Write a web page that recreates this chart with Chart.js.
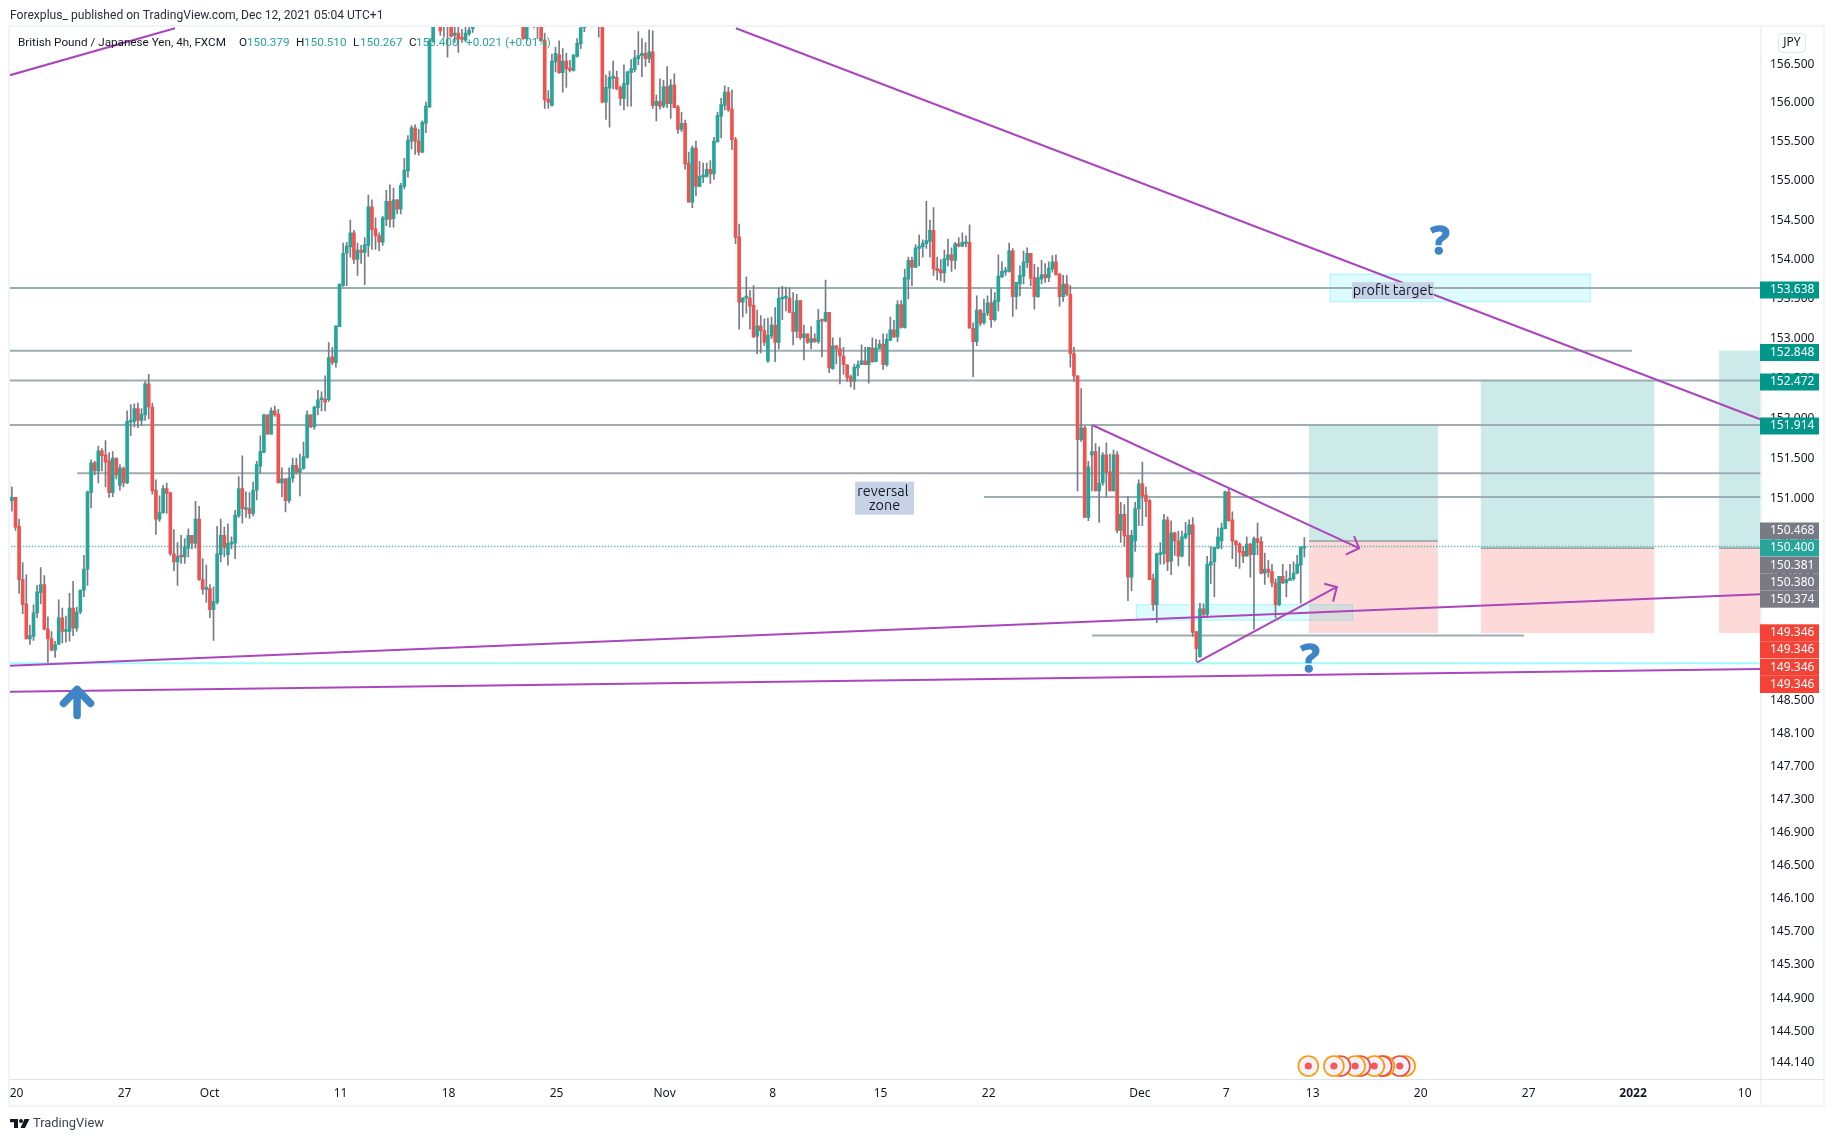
<!DOCTYPE html>
<html>
<head>
<meta charset="utf-8">
<style>html,body{margin:0;padding:0;background:#fff}canvas{display:block}</style>
<script src="https://cdn.jsdelivr.net/npm/chart.js@4"></script>
</head>
<body>
<canvas id="c" width="1834" height="1141"></canvas>
<script>
// Candles: index 0 is bar -1 (cut by the left edge); bars are 4h, 30 per week.
const opens = [
151.20,150.97,151.01,150.65,149.99,149.69,149.26,149.29,149.58,149.83,
149.93,149.38,149.26,149.12,149.19,149.52,149.35,149.35,149.64,149.39,
149.59,149.86,150.12,151.07,151.44,151.34,151.59,151.54,151.47,151.07,
151.50,151.16,151.37,151.19,151.95,151.96,152.12,151.97,152.04,152.43,
152.14,151.10,150.74,150.82,151.12,151.07,150.31,150.21,150.28,150.27,
150.38,150.54,150.44,150.74,149.99,149.87,149.88,149.62,149.71,150.30,
150.54,150.30,150.43,150.44,150.78,151.12,150.86,150.87,150.81,151.10,
151.40,151.57,152.04,151.80,152.09,152.05,151.19,151.24,150.97,151.25,
151.41,151.32,151.37,151.51,152.04,151.89,152.13,152.23,152.24,152.23,
152.77,152.70,153.15,153.67,154.08,154.16,154.34,154.00,154.12,154.09,
154.18,154.67,154.39,154.30,154.22,154.51,154.74,154.52,154.76,154.64,
154.93,155.13,155.51,155.68,155.51,155.37,155.74,155.95,156.80,157.25,
157.45,157.00,157.20,157.05,156.87,156.90,156.83,156.81,156.89,156.96,
157.10,157.28,157.50,157.70,157.50,157.62,157.40,157.55,157.35,157.50,
157.25,157.40,157.20,157.10,156.83,157.05,157.12,157.10,157.05,156.81,
156.05,155.97,156.53,156.62,156.39,156.54,156.45,156.42,156.60,156.76,
156.97,157.15,157.05,157.20,157.10,157.00,156.01,156.19,156.32,156.33,
156.20,156.06,156.24,156.39,156.43,156.57,156.61,156.64,156.57,156.66,
155.97,156.02,155.96,156.21,155.99,156.23,155.95,155.66,155.74,155.23,
154.73,155.42,154.93,155.05,155.06,155.15,155.09,155.50,155.83,155.97,
156.14,155.92,155.53,154.29,153.46,153.51,153.51,153.42,153.03,153.16,
153.10,152.72,153.03,153.17,152.95,153.50,153.51,153.51,153.33,153.09,
153.48,153.01,153.06,152.95,153.00,152.96,153.23,153.22,153.33,152.62,
152.91,152.87,152.78,152.67,152.52,152.46,152.63,152.67,152.72,152.67,
152.88,152.71,152.87,152.93,152.67,152.98,153.11,153.02,153.43,153.14,
153.75,153.99,153.90,154.14,154.16,154.20,154.23,154.37,153.88,153.87,
153.83,154.00,154.06,153.99,154.20,154.17,154.20,154.22,153.13,152.96,
153.36,153.20,153.32,153.45,153.24,153.47,153.78,153.84,153.85,154.11,
153.53,153.69,153.79,153.96,154.08,153.77,153.53,153.75,153.81,153.77,
153.88,153.97,153.82,153.53,153.69,153.56,152.81,152.53,151.73,151.88,
150.76,151.54,151.58,151.09,151.19,151.54,151.33,151.09,151.54,150.60,
150.80,150.54,150.02,150.47,150.87,151.18,151.04,150.97,150.00,149.68,
150.30,150.31,150.73,150.22,150.57,150.47,150.28,150.51,150.55,150.67,
149.35,149.04,149.63,149.56,150.17,150.21,150.38,150.47,150.62,151.08,
150.73,150.47,150.43,150.34,150.28,150.43,150.30,150.50,150.46,150.07,
150.12,150.09,149.95,149.68,150.03,149.95,149.98,150.00,150.07,150.17,
150.379];
const highs = [
151.20,151.14,151.01,150.74,150.20,150.05,149.43,149.68,149.92,150.14,
150.04,149.53,149.35,149.23,149.74,149.64,149.54,149.82,149.97,149.65,
149.86,150.29,151.09,151.48,151.46,151.65,151.62,151.72,151.57,151.58,
151.50,151.42,151.39,152.09,152.17,152.18,152.19,152.12,152.46,152.55,
152.19,151.23,151.03,151.16,151.19,151.07,150.61,150.45,150.54,150.50,
150.62,150.54,150.96,150.90,150.25,150.17,149.93,149.90,150.65,150.74,
150.64,150.68,150.52,150.85,151.27,151.53,151.08,151.07,151.20,151.46,
151.78,152.05,152.04,152.13,152.15,152.11,151.38,151.24,151.38,151.50,
151.50,151.55,151.70,152.09,152.04,152.15,152.35,152.33,152.53,152.95,
152.89,153.16,153.69,154.21,154.22,154.50,154.37,154.21,154.18,154.28,
154.82,154.76,154.53,154.34,154.55,154.88,154.95,154.91,154.76,154.97,
155.29,155.58,155.71,155.72,155.66,155.77,156.01,156.83,157.35,157.60,
157.55,157.25,157.30,157.15,157.05,157.10,156.95,157.05,157.10,157.20,
157.35,157.60,157.80,157.85,157.75,157.80,157.70,157.70,157.60,157.65,
157.50,157.55,157.35,157.20,157.10,157.20,157.25,157.20,157.20,156.90,
156.16,156.63,156.72,156.80,156.70,156.64,156.55,156.62,156.83,157.10,
157.25,157.30,157.30,157.35,157.20,157.15,156.36,156.41,156.54,156.41,
156.22,156.49,156.41,156.56,156.68,156.92,156.83,156.78,156.94,156.93,
156.10,156.31,156.29,156.47,156.30,156.38,155.97,155.88,155.78,155.37,
155.45,155.51,155.25,155.23,155.23,155.26,155.56,155.88,156.06,156.22,
156.20,156.17,155.56,154.45,153.52,153.78,153.61,153.67,153.36,153.29,
153.25,153.26,153.27,153.39,153.64,153.66,153.65,153.64,153.58,153.56,
153.48,153.17,153.06,153.15,153.06,153.37,153.23,153.74,153.33,153.01,
152.91,153.01,152.89,152.67,152.54,152.68,152.72,152.92,152.89,152.89,
153.01,152.99,152.98,153.06,153.06,153.27,153.23,153.48,153.48,153.88,
154.03,154.03,154.19,154.31,154.25,154.74,154.50,154.66,154.03,154.00,
154.12,154.26,154.15,154.22,154.28,154.34,154.30,154.44,153.20,153.54,
153.37,153.50,153.54,153.63,153.58,154.06,153.97,153.90,154.21,154.14,
153.71,153.92,154.11,154.15,154.08,153.94,153.90,153.99,153.95,153.97,
154.05,154.06,153.82,153.80,153.80,153.67,152.89,152.53,152.37,151.90,
151.46,151.91,151.68,151.64,151.57,151.69,151.55,151.60,151.58,150.95,
150.92,151.02,150.60,150.95,151.23,151.45,151.14,150.99,150.06,150.32,
150.45,150.80,150.77,150.72,150.58,150.59,150.59,150.70,150.73,150.76,
149.35,149.70,149.69,150.28,150.40,150.39,150.63,150.69,151.09,151.13,
150.83,150.47,150.45,150.40,150.52,150.44,150.52,150.69,150.52,150.32,
150.23,150.18,150.00,150.03,150.18,150.10,150.18,150.21,150.29,150.40,
150.51];
const lows = [
150.93,150.84,150.60,149.82,149.57,149.26,149.19,149.24,149.52,149.69,
149.37,148.97,149.11,149.03,149.19,149.21,149.22,149.23,149.30,149.35,
149.57,149.78,149.92,150.88,151.29,151.19,151.34,151.14,151.01,151.02,
151.24,151.10,151.14,151.18,151.78,151.89,151.88,151.91,151.97,151.99,
151.05,150.55,150.71,150.81,150.81,150.29,150.10,149.92,150.19,150.19,
150.27,150.37,150.38,149.98,149.81,149.71,149.52,149.24,149.69,150.21,
150.27,150.17,150.37,150.25,150.76,150.69,150.76,150.75,150.78,150.98,
151.31,151.57,151.80,151.80,152.02,151.19,151.02,150.83,150.94,151.20,
151.30,151.03,151.36,151.50,151.88,151.86,152.04,152.09,152.09,152.21,
152.67,152.64,153.15,153.66,153.67,154.03,153.95,153.80,153.95,153.68,
154.04,154.13,154.13,154.11,154.18,154.43,154.41,154.41,154.58,154.58,
154.90,155.05,155.41,155.34,155.33,155.36,155.62,155.94,156.78,157.10,
156.87,156.85,156.59,156.85,156.78,156.65,156.78,156.79,156.87,156.91,
157.02,157.20,157.40,157.45,157.35,157.30,157.25,157.30,157.20,157.15,
157.05,157.10,157.00,156.82,156.80,156.98,156.97,156.83,156.80,155.93,
155.93,155.96,156.40,156.38,156.14,156.20,156.40,156.41,156.59,156.70,
156.92,157.00,156.98,157.05,156.85,156.00,155.79,155.69,156.18,156.17,
155.97,155.91,155.96,155.96,156.40,156.49,156.34,156.47,156.52,155.93,
155.77,155.92,155.94,155.94,155.80,155.94,155.61,155.63,155.15,154.73,
154.66,154.81,154.93,154.98,155.05,154.97,155.02,155.50,155.55,155.91,
155.89,155.40,154.20,153.12,153.27,153.32,153.12,153.01,152.81,152.82,
152.91,152.70,153.00,152.71,152.87,153.24,153.35,153.33,152.92,153.01,
152.99,152.73,152.94,152.87,152.95,152.94,152.77,153.21,152.57,152.61,
152.68,152.43,152.55,152.46,152.39,152.36,152.53,152.67,152.67,152.44,
152.70,152.71,152.87,152.61,152.65,152.97,153.01,152.96,153.13,153.13,
153.50,153.67,153.90,153.92,154.03,154.14,154.03,153.80,153.74,153.73,
153.71,153.92,153.85,153.88,154.16,154.16,154.16,153.13,152.52,152.91,
153.16,153.18,153.29,153.14,153.22,153.35,153.77,153.80,153.84,153.28,
153.37,153.54,153.69,153.90,153.67,153.37,153.52,153.69,153.71,153.72,
153.84,153.80,153.41,153.47,153.54,152.64,152.46,151.09,151.71,150.76,
150.72,151.09,151.09,150.70,151.16,151.01,151.09,151.09,150.57,150.45,
150.40,149.73,149.85,150.34,150.66,150.66,150.77,149.99,149.61,149.46,
150.18,150.18,150.10,150.05,150.29,150.16,150.27,150.49,150.16,149.29,
148.98,149.03,149.52,149.52,149.94,149.78,150.37,150.37,150.62,150.71,
150.25,150.15,150.13,150.20,150.28,150.02,149.38,150.30,150.06,149.93,
150.02,149.90,149.52,149.67,149.94,149.78,149.98,149.98,150.06,149.70,
150.267];
const closes = [
150.93,151.01,150.64,149.99,149.68,149.26,149.30,149.58,149.84,149.93,
149.38,149.26,149.12,149.19,149.52,149.35,149.36,149.64,149.39,149.59,
149.86,150.12,151.08,151.44,151.34,151.59,151.53,151.45,151.07,151.50,
151.29,151.38,151.19,151.96,151.97,152.12,151.97,152.05,152.43,152.14,
151.09,150.74,150.82,151.12,151.06,150.31,150.21,150.28,150.27,150.39,
150.54,150.44,150.74,149.99,149.87,149.88,149.62,149.72,150.31,150.54,
150.39,150.44,150.45,150.79,151.12,150.87,150.87,150.81,151.10,151.42,
151.58,152.04,151.80,152.09,152.04,151.19,151.24,150.97,151.25,151.41,
151.32,151.37,151.52,152.04,151.89,152.14,152.23,152.24,152.20,152.76,
152.70,153.16,153.69,154.08,154.17,154.34,154.00,154.12,154.09,154.19,
154.67,154.38,154.30,154.22,154.53,154.74,154.51,154.76,154.64,154.94,
155.14,155.52,155.68,155.51,155.37,155.75,155.96,156.80,157.25,157.50,
156.93,157.15,157.02,156.86,156.90,156.83,156.82,156.90,156.94,157.10,
157.28,157.50,157.70,157.50,157.62,157.40,157.55,157.35,157.50,157.25,
157.40,157.20,157.10,156.83,157.05,157.12,157.02,156.98,156.81,156.04,
156.01,156.54,156.64,156.39,156.54,156.44,156.42,156.62,156.77,156.97,
157.15,157.05,157.20,157.10,157.00,156.01,156.20,156.33,156.34,156.18,
156.06,156.25,156.40,156.44,156.58,156.61,156.64,156.57,156.66,155.97,
156.02,155.96,156.21,155.99,156.23,155.94,155.66,155.74,155.22,154.73,
155.42,154.93,155.06,155.07,155.15,155.09,155.51,155.84,155.98,156.14,
155.91,155.53,154.28,153.46,153.51,153.52,153.41,153.02,153.16,153.10,
152.95,153.04,153.17,152.95,153.51,153.52,153.52,153.33,153.09,153.48,
153.01,153.06,152.95,153.00,152.96,153.23,153.22,153.33,152.63,152.91,
152.87,152.78,152.67,152.51,152.46,152.64,152.67,152.72,152.67,152.89,
152.71,152.88,152.93,152.67,152.99,153.11,153.02,153.43,153.14,153.77,
153.99,153.90,154.15,154.17,154.21,154.24,154.37,153.88,153.86,153.83,
154.01,154.06,153.99,154.20,154.17,154.22,154.22,153.13,152.96,153.36,
153.19,153.32,153.45,153.24,153.48,153.79,153.85,153.86,154.11,153.53,
153.71,153.80,153.97,154.08,153.76,153.53,153.77,153.81,153.77,153.89,
153.97,153.81,153.53,153.69,153.56,152.81,152.53,151.73,151.88,150.76,
151.39,151.58,151.09,151.19,151.54,151.32,151.09,151.54,150.60,150.80,
150.53,150.02,150.54,150.87,151.18,151.03,150.96,149.99,149.68,150.31,
150.31,150.73,150.21,150.57,150.47,150.28,150.52,150.56,150.67,149.34,
149.14,149.63,149.56,150.18,150.21,150.39,150.52,150.63,151.08,150.72,
150.47,150.42,150.33,150.28,150.43,150.30,150.50,150.45,150.07,150.12,
150.08,149.95,149.68,150.03,149.95,149.99,150.01,150.07,150.18,150.39,
150.40];

const priceTicks = [156.5,156,155.5,155,154.5,154,153.5,153,152.5,152,151.5,151,150.5,150.1,149.7,149.3,148.9,148.5,148.1,147.7,147.3,146.9,146.5,146.1,145.7,145.3,144.9,144.5,144.14];
const timeBars = [1.3,31.3,54.9,91.3,121.3,151.3,181.3,211.3,241.3,271.3,313.3,337.3,361.3,391.3,421.3,450.3,481.3];
const timeLabels = ['20','27','Oct','11','18','25','Nov','8','15','22','Dec','7','13','20','27','2022','10'];

// Horizontal levels: [price, first bar, last bar]
const levelPrices = [153.638,152.848,152.472,151.914,151.31,151.015,149.30];
const levelStart  = [-1,-1,-1,-1,18.1,270,300];
const levelEnd    = [486,450,486,486,486,486,420];
const cyanLevel = 148.96;
const lastClose = 150.40;

// Trend lines as [bar, price] pairs
const trendTop    = [[-0.53,156.358],[45.3,156.965]];
const trendDown   = [[201.1,156.965],[485.6,151.985]];
const trendUpper  = [[-0.53,148.93],[485.6,149.81]];
const trendLower  = [[-0.53,148.61],[485.6,148.89]];
const wedgeDown   = [[300.2,151.91],[374.2,150.38]];
const wedgeDownTip= [[370.5,150.30],[374.2,150.38],[372.8,150.53]];
const wedgeUp     = [[329.2,148.97],[368,149.90]];
const wedgeUpTip  = [[364.5,149.94],[368,149.90],[367,149.72]];

// Long position tools: [first bar, last bar, target, entry, stop]
const positions = [[360.3,396.1,151.914,150.468,149.33],[408,456.2,152.472,150.38,149.33],[474.2,485.6,152.848,150.38,149.33]];
// Cyan zones: [first bar, last bar, top, bottom]
const zones = [[366.2,438.4,153.815,153.465],[312.3,372.4,149.68,149.49]];

const eventBars = [387,385.5,381.2,380.5,378.4,374.5,373.1,369,367.2,360.1];
const eventRing = ['#ff9800','#f44336','#ff9800','#f44336','#ff9800','#f44336','#ff9800','#f44336','#ff9800','#ff9800'];

// Price tags on the axis
const tagTexts = ['153.638','152.848','152.472','151.914','150.468','150.400','150.381','150.380','150.374','149.346','149.346','149.346','149.346'];
const tagColors= ['#00968a','#00968a','#00968a','#00968a','#787b86','#26a69a','#787b86','#787b86','#787b86','#f44336','#f44336','#f44336','#f44336'];
const tagY     = [290,352.5,382,426,531,548,565.2,582.2,599.2,632.8,649.8,667.3,684.5];

const UP='#26a69a', DOWN='#ef5350', WICK='#787b86', PURPLE='#ab47bc', LEVEL='#9eadb3', BLUE='#3d85c6', TEXT='#131722';
const FONT='"Noto Sans", sans-serif', HEAD='Roboto, sans-serif';

const toXY = a => a.map(p => ({x:p[0], y:p[1]}));
const lineDs = (data,color,width,order,dash) => ({type:'line',data,borderColor:color,borderWidth:width,borderDash:dash||[],pointRadius:0,tension:0,order,fill:false});
const flat = (price,a,b) => [{x:a,y:price},{x:b,y:price}];

const drawings = {
  id:'drawings',
  beforeDatasetsDraw(chart){
    const {ctx,scales:{x,y},chartArea:a} = chart;
    ctx.save();
    ctx.beginPath(); ctx.rect(a.left,a.top,a.width,a.height); ctx.clip();
    positions.forEach(p=>{
      const l=x.getPixelForValue(p[0]), r=x.getPixelForValue(p[1]);
      const t=y.getPixelForValue(p[2]), e=y.getPixelForValue(p[3]), s=y.getPixelForValue(p[4]);
      ctx.fillStyle='rgba(38,166,154,0.235)'; ctx.fillRect(l,t,r-l,e-t);
      ctx.fillStyle='rgba(244,67,54,0.2)'; ctx.fillRect(l,e,r-l,s-e);
      ctx.fillStyle='#787b86'; ctx.fillRect(l,e-0.5,r-l,1);
    });
    zones.forEach(z=>{
      const l=x.getPixelForValue(z[0]), r=x.getPixelForValue(z[1]);
      const t=y.getPixelForValue(z[2]), b=y.getPixelForValue(z[3]);
      ctx.fillStyle='rgba(0,229,255,0.13)'; ctx.fillRect(l,t,r-l,b-t);
      ctx.strokeStyle='rgba(0,229,255,0.32)'; ctx.lineWidth=1; ctx.strokeRect(l,t,r-l,b-t);
    });
    ctx.restore();
  },
  afterDatasetsDraw(chart){
    const {ctx,scales:{x,y}} = chart;
    ctx.save();
    // text notes
    const note=(lines,cx,cy,w,h)=>{
      const px=x.getPixelForValue(cx), py=y.getPixelForValue(cy);
      ctx.fillStyle='#c6d3e7'; ctx.fillRect(px-w/2,py-h/2,w,h);
      ctx.fillStyle=TEXT; ctx.font='14.4px Ubuntu,"Noto Sans",sans-serif'; ctx.textAlign='center'; ctx.textBaseline='middle';
      lines.forEach((t,i)=>ctx.fillText(t,px,py+(i-(lines.length-1)/2)*14.5));
    };
    note(['reversal ','zone'],242.4,151.0,59,33);
    note(['profit target'],383.6,153.605,82,17);
    // question marks
    ctx.fillStyle=BLUE; ctx.strokeStyle=BLUE; ctx.lineWidth=1.4; ctx.font='bold 40px "Noto Sans",sans-serif'; ctx.textAlign='center'; ctx.textBaseline='middle';
    [[396.7,154.23],[360.6,149.01]].forEach(q=>{
      const qx=x.getPixelForValue(q[0]), qy=y.getPixelForValue(q[1])+1;
      ctx.fillText('?',qx,qy); ctx.strokeText('?',qx,qy);
    });
    // up arrow
    const ax=x.getPixelForValue(18.1), ay=y.getPixelForValue(148.48);
    ctx.strokeStyle=BLUE; ctx.lineWidth=7.5; ctx.lineCap='round'; ctx.lineJoin='round';
    ctx.beginPath(); ctx.moveTo(ax,ay+13); ctx.lineTo(ax,ay-13); ctx.moveTo(ax-13.5,ay+1); ctx.lineTo(ax,ay-13); ctx.lineTo(ax+13.5,ay+1); ctx.stroke();
    // events
    const ey=1066;
    eventBars.forEach((b,i)=>{
      const ex=x.getPixelForValue(b);
      ctx.beginPath(); ctx.arc(ex,ey,10,0,Math.PI*2); ctx.fillStyle='#f0f3fa'; ctx.fill();
      ctx.strokeStyle=eventRing[i]; ctx.lineWidth=1.6; ctx.stroke();
      ctx.beginPath(); ctx.arc(ex,ey,3.6,0,Math.PI*2); ctx.fillStyle='#f55a5a'; ctx.fill();
    });
    ctx.restore();
  },
  afterDraw(chart){
    const {ctx,chartArea:a} = chart;
    ctx.save();
    // frame
    ctx.strokeStyle='#f0f3fa'; ctx.lineWidth=2; ctx.strokeRect(9,26,1815,1080);
    ctx.fillStyle='#e0e3eb'; ctx.fillRect(a.right,27,1,1078); ctx.fillRect(10,a.bottom,1814,1);
    // price tags
    ctx.font='12px '+FONT; ctx.textBaseline='middle'; ctx.textAlign='left';
    tagTexts.forEach((t,i)=>{
      ctx.fillStyle=tagColors[i]; ctx.fillRect(a.right-0.5,tagY[i]-8.5,59,17);
      ctx.fillStyle='#fff'; ctx.fillText(t,1770,tagY[i]);
    });
    // currency button
    ctx.strokeStyle='#e0e3eb'; ctx.lineWidth=1; ctx.beginPath(); ctx.roundRect(1778.5,33.5,27,19,4); ctx.stroke();
    ctx.fillStyle=TEXT; ctx.textAlign='center'; ctx.fillText('JPY',1792,43);
    // header
    ctx.textAlign='left';
    ctx.fillStyle='#2a2e39'; ctx.font='12.1px '+HEAD;
    ctx.fillText('Forexplus_ published on TradingView.com, Dec 12, 2021 05:04 UTC+1',10,16);
    ctx.font='11.7px '+HEAD;
    const legend=[['British Pound / Japanese Yen, 4h, FXCM',18,TEXT],['O',239,TEXT],['150.379',247,UP],['H',296,TEXT],['150.510',304,UP],['L',353,TEXT],['150.267',360,UP],['C',409,TEXT],['150.400',416,UP],['+0.021 (+0.01%)',466,UP]];
    legend.forEach(l=>{ctx.fillStyle=l[2];ctx.fillText(l[0],l[1],43);});
    // logo
    ctx.fillStyle='#131722';
    ctx.fillRect(10,1119,8,3.2); ctx.fillRect(14,1119,4,9);
    ctx.beginPath(); ctx.arc(21,1121,2,0,Math.PI*2); ctx.fill();
    ctx.beginPath(); ctx.moveTo(20.5,1128); ctx.lineTo(24.5,1119); ctx.lineTo(29.5,1119); ctx.lineTo(25,1128); ctx.closePath(); ctx.fill();
    ctx.font='12.9px '+HEAD; ctx.fillStyle='#3b3f4a'; ctx.fillText('TradingView',33,1124);
    ctx.restore();
  }
};

new Chart(document.getElementById('c'),{
  data:{datasets:[
    ...levelPrices.map((p,i)=>lineDs(flat(p,levelStart[i],levelEnd[i]),LEVEL,2,30)),
    lineDs(flat(cyanLevel,-1,486),'#a0fbff',2,30),
    lineDs(flat(lastClose,-1,486),UP,1.5,29,[1,2]),
    {type:'bar',data:opens.map((o,i)=>({x:i-1,y:[lows[i],highs[i]]})),backgroundColor:WICK,maxBarThickness:1,categoryPercentage:1,barPercentage:1,grouped:false,borderWidth:0,order:20},
    {type:'bar',data:opens.map((o,i)=>({x:i-1,y:[o,closes[i]]})),backgroundColor:c=>closes[c.dataIndex]>=opens[c.dataIndex]?UP:DOWN,maxBarThickness:3,categoryPercentage:1,barPercentage:1,grouped:false,borderWidth:0,minBarLength:2,order:19},
    ...[trendTop,trendDown,trendUpper,trendLower,wedgeDown,wedgeDownTip,wedgeUp,wedgeUpTip].map(t=>lineDs(toXY(t),PURPLE,2.1,1))
  ]},
  options:{
    responsive:false,animation:false,devicePixelRatio:1,events:[],
    layout:{padding:{left:10,top:27,right:9,bottom:35}},
    plugins:{legend:{display:false},tooltip:{enabled:false},title:{display:false}},
    scales:{
      x:{type:'linear',min:-0.53,max:485.7,offset:false,
        grid:{display:false,drawTicks:false},border:{display:false},
        afterBuildTicks:s=>{s.ticks=timeBars.map(value=>({value}));},
        afterFit:s=>{s.height=27;},
        ticks:{autoSkip:false,maxRotation:0,padding:7,color:TEXT,
          font:c=>({family:FONT,size:12,weight:c.tick&&c.tick.label==='2022'?'bold':'normal'}),
          callback:v=>timeLabels[timeBars.indexOf(v)]}},
      y:{type:'logarithmic',position:'right',min:143.942,max:156.98,
        grid:{display:false,drawTicks:false},border:{display:false},
        afterBuildTicks:s=>{s.ticks=priceTicks.map(value=>({value}));},
        afterFit:s=>{s.width=64.5;},
        ticks:{autoSkip:false,padding:9.5,color:TEXT,font:{family:FONT,size:12},
          callback:v=>v.toFixed(3)}}
    }
  },
  plugins:[drawings]
});
</script>
</body>
</html>
